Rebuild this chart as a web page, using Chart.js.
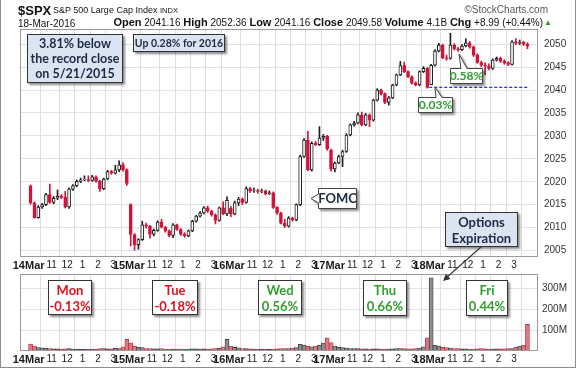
<!DOCTYPE html>
<html>
<head>
<meta charset="utf-8">
<script src="https://cdn.jsdelivr.net/npm/chart.js@4.4.1/dist/chart.umd.min.js"></script>
<style>
html, body { margin: 0; padding: 0; background: #fff; }
#wrap { position: relative; width: 576px; height: 368px; overflow: hidden; font-family: 'Liberation Sans', Arial, sans-serif; color: #111; }
#frame { position: absolute; left: 0; top: 0; width: 576px; height: 368px; box-sizing: border-box; border: 1px solid #8c8c8c; border-top: none; pointer-events: none; }
.abs { position: absolute; white-space: nowrap; }
#priceBox { position: absolute; left: 0; top: 0; width: 576px; height: 270px; }
#volBox { position: absolute; left: 0; top: 264px; width: 576px; height: 104px; }
.note { position: absolute; box-sizing: border-box; text-align: center; white-space: nowrap; font-family: Lato, 'Open Sans', sans-serif; font-weight: bold; font-size: 12.5px; line-height: 15px; color: #1d2945; background: #dbe5f1; border: 1px solid #333; box-shadow: 2px 2px 2px rgba(0,0,0,.45); }
.day { background: #fff; font-size: 13px; line-height: 16px; padding-top: 1px; }
.red { color: #e0101e; }
.green { color: #2f9e2f; }
svg { position: absolute; left: 0; top: 0; }
</style>
</head>
<body>
<div id="wrap">
  <div id="priceBox"><canvas id="priceChart"></canvas></div>
  <div id="volBox"><canvas id="volChart"></canvas></div>

  <div class="abs" style="left:18px;top:3px;font-size:13px;font-weight:bold;">$SPX</div>
  <div class="abs" style="left:53px;top:5px;font-size:9px;">S&amp;P 500 Large Cap Index</div>
  <div class="abs" style="left:160px;top:6px;font-size:7.5px;">INDX</div>
  <div class="abs" style="right:28px;top:4px;font-size:10px;color:#555;">&copy;StockCharts.com</div>
  <div class="abs" style="left:18px;top:18px;font-size:10px;">18-Mar-2016</div>
  <div class="abs" style="right:33px;top:16px;font-size:10px;"><b style="font-size:11px">Open</b> 2041.16 <b style="font-size:11px">High</b> 2052.36 <b style="font-size:11px">Low</b> 2041.16 <b style="font-size:11px">Close</b> 2049.58 <b style="font-size:11px">Volume</b> 4.1B <b style="font-size:11px">Chg</b> +8.99 (+0.44%)</div>
  <div class="abs" style="right:24px;top:18px;font-size:8px;color:#2a9d2a;">&#9650;</div>

  <div class="note" style="left:27px;top:34px;width:96px;height:49px;padding-top:1px;">3.81% below<br>the record close<br>on 5/21/2015</div>
  <div class="note" style="left:133px;top:34px;width:92px;height:18px;line-height:16px;font-size:10.5px;">Up 0.28% for 2016</div>
  <div class="note" style="left:445px;top:212px;width:73px;height:35px;padding-top:1px;line-height:16px;font-size:13px;">Options<br>Expiration</div>

  <div class="note day" style="left:48px;top:280px;width:44px;height:35px;"><span class="red">Mon<br>-0.13%</span></div>
  <div class="note day" style="left:152px;top:280px;width:46px;height:35px;"><span class="red">Tue<br>-0.18%</span></div>
  <div class="note day" style="left:258px;top:280px;width:44px;height:35px;"><span class="green">Wed<br>0.56%</span></div>
  <div class="note day" style="left:363px;top:280px;width:44px;height:36px;"><span class="green">Thu<br>0.66%</span></div>
  <div class="note day" style="left:466px;top:280px;width:42px;height:36px;"><span class="green">Fri<br>0.44%</span></div>

  <svg width="576" height="368">
    <g style="filter: drop-shadow(2px 2px 1px rgba(0,0,0,.45));" fill="#fff" stroke="#444" stroke-width="1">
      <path d="M318.5,188.5 H356.5 V208.5 H318.5 V203 L311,198.5 L318.5,194 Z"/>
      <path d="M450.5,68.5 H461 L459,54 L467,68.5 H482.5 V83.5 H450.5 Z"/>
      <path d="M418.5,97.5 H436 L435,87 L442,97.5 H452.5 V112.5 H418.5 Z"/>
    </g>
    <g font-family="Lato, 'Open Sans', sans-serif" font-weight="bold" text-anchor="middle">
      <text x="337.5" y="203" font-size="13" fill="#1d2945">FOMC</text>
      <text x="466.5" y="80" font-size="12" fill="#2f9e2f">0.58%</text>
      <text x="435.5" y="109" font-size="12" fill="#2f9e2f">0.03%</text>
    </g>
    <line x1="481" y1="247" x2="446" y2="278" stroke="#333" stroke-width="1.2"/>
    <polygon points="443,281 450.5,278.9 445.9,273.7" fill="#333"/>
  </svg>
  <div id="frame"></div>
</div>

<script>
// session labels
var days = ['14Mar', '15Mar', '16Mar', '17Mar', '18Mar'];
var barTimes = ['9:30','9:45','10:00','10:15','10:30','10:45','11:00','11:15','11:30','11:45','12:00','12:15','12:30',
                '12:45','13:00','13:15','13:30','13:45','14:00','14:15','14:30','14:45','15:00','15:15','15:30','15:45'];
var hourTickTimes = ['11:00', '12:00', '13:00', '14:00', '15:00'];
var hourTickLabels = ['11', '12', '1', '2', '3'];
var priceTicks = [2005, 2010, 2015, 2020, 2025, 2030, 2035, 2040, 2045, 2050];
var volTicks = [100, 200, 300];
var volTickLabels = ['100M', '200M', '300M'];

// 15 minute bars, 14-18 Mar 2016
var opens = [
  2019.1,2015.4,2012.2,2014.5,2015.0,2017.2,2015.5,2016.4,2016.8,2016.6,2014.5,2018.4,2019.1,2020.1,2020.4,2020.5,2020.3,2021.1,2020.1,2018.5,2020.6,2022.2,2021.9,2022.6,2023.7,2022.6,
  2015.0,2008.5,2006.3,2007.4,2010.6,2010.3,2008.6,2009.4,2011.2,2010.1,2009.3,2008.3,2010.6,2009.6,2008.6,2008.2,2009.3,2011.4,2012.5,2013.2,2014.3,2013.6,2012.8,2011.6,2014.3,2013.0,
  2014.24,2013.0,2015.4,2016.2,2015.5,2018.5,2018.0,2018.1,2017.9,2018.0,2017.4,2017.6,2014.4,2013.2,2011.0,2010.3,2012.1,2011.7,2015.0,2025.5,2029.1,2022.6,2028.4,2028.1,2029.5,2029.9,
  2026.9,2022.8,2024.1,2025.5,2026.6,2030.2,2032.4,2032.8,2034.6,2032.4,2034.6,2033.4,2037.8,2040.0,2039.2,2037.3,2038.3,2041.1,2043.3,2045.3,2044.0,2042.9,2041.5,2041.1,2044.0,2044.7,
  2041.16,2045.4,2048.5,2049.8,2047.0,2046.9,2049.8,2049.0,2048.8,2049.6,2050.3,2049.4,2047.6,2046.0,2045.4,2045.2,2044.7,2046.5,2046.9,2046.3,2045.9,2045.6,2050.5,2050.2,2050.4,2050.0
];
var highs = [
  2019.3,2015.6,2014.8,2015.3,2017.5,2019.5,2016.8,2018.2,2017.2,2017.9,2018.7,2019.4,2020.4,2020.8,2021.3,2021.3,2021.4,2021.3,2020.3,2020.8,2022.5,2022.5,2023.6,2024.57,2024.2,2022.8,
  2015.2,2008.7,2007.6,2011.4,2011.0,2010.5,2009.7,2011.5,2011.8,2010.3,2009.5,2010.9,2010.8,2009.8,2008.9,2009.5,2011.6,2012.7,2013.5,2014.6,2014.7,2013.8,2013.0,2014.5,2015.6,2016.72,
  2014.6,2015.8,2016.6,2016.5,2018.9,2018.8,2018.6,2018.4,2018.4,2018.2,2018.0,2017.8,2014.6,2013.4,2011.8,2012.4,2012.3,2015.2,2025.8,2029.4,2031.0,2028.7,2028.8,2032.02,2030.3,2030.1,
  2027.1,2024.3,2025.8,2026.9,2030.5,2032.6,2033.2,2035.0,2035.2,2034.9,2034.8,2038.0,2040.3,2040.2,2039.4,2038.6,2041.3,2043.5,2046.24,2046.1,2044.2,2043.1,2041.8,2044.2,2045.1,2044.9,
  2045.6,2048.8,2050.2,2050.0,2047.6,2052.36,2050.1,2049.3,2049.9,2051.2,2050.6,2049.6,2047.9,2046.3,2045.9,2045.7,2046.8,2047.2,2047.2,2046.6,2046.2,2050.8,2051.2,2050.9,2050.6,2050.3
];
var lows = [
  2015.1,2012.05,2012.05,2014.2,2014.8,2015.3,2015.2,2016.1,2016.3,2014.3,2014.2,2018.1,2018.9,2019.8,2020.2,2020.0,2020.1,2019.9,2017.9,2018.3,2020.4,2021.6,2021.7,2022.2,2022.3,2019.2,
  2006.0,2005.08,2005.3,2007.2,2009.9,2007.7,2008.2,2009.2,2009.9,2009.0,2008.0,2007.8,2009.4,2008.3,2007.9,2008.0,2009.1,2011.2,2012.3,2013.0,2013.3,2012.5,2010.8,2011.4,2012.8,2012.6,
  2012.4,2012.8,2014.8,2015.0,2015.3,2017.7,2017.7,2017.5,2017.6,2017.1,2017.2,2014.2,2012.9,2010.8,2010.04,2010.1,2011.4,2011.5,2014.8,2025.3,2022.4,2022.3,2027.9,2027.9,2029.0,2026.9,
  2022.3,2022.16,2023.9,2023.3,2026.4,2030.0,2032.1,2032.6,2032.2,2032.2,2032.0,2033.2,2037.6,2038.9,2037.0,2036.7,2038.1,2040.9,2043.1,2043.8,2042.7,2041.3,2040.9,2040.9,2043.8,2040.4,
  2041.16,2045.2,2048.3,2046.8,2046.5,2046.7,2048.7,2048.4,2048.6,2049.4,2049.1,2047.3,2045.8,2045.1,2043.3,2044.4,2044.5,2046.3,2046.0,2045.6,2045.3,2045.4,2049.9,2049.9,2049.7,2049.0
];
var closes = [
  2015.4,2012.2,2014.5,2015.0,2017.2,2015.5,2016.4,2016.8,2016.6,2014.5,2018.4,2019.1,2020.1,2020.4,2020.5,2020.3,2021.1,2020.1,2018.5,2020.6,2022.2,2021.9,2022.6,2023.7,2022.6,2019.64,
  2008.5,2006.3,2007.4,2010.6,2010.3,2008.6,2009.4,2011.2,2010.1,2009.3,2008.3,2010.6,2009.6,2008.6,2008.2,2009.3,2011.4,2012.5,2013.2,2014.3,2013.6,2012.8,2011.6,2014.3,2013.0,2015.93,
  2013.0,2015.4,2016.2,2015.5,2018.5,2018.0,2018.1,2017.9,2018.0,2017.4,2017.6,2014.4,2013.2,2011.0,2010.3,2012.1,2011.7,2015.0,2025.5,2029.1,2022.6,2028.4,2028.1,2029.5,2029.9,2027.22,
  2022.8,2024.1,2025.5,2026.6,2030.2,2032.4,2032.8,2034.6,2032.4,2034.6,2033.4,2037.8,2040.0,2039.2,2037.3,2038.3,2041.1,2043.3,2045.3,2044.0,2042.9,2041.5,2041.1,2044.0,2044.7,2040.59,
  2045.4,2048.5,2049.8,2047.0,2046.9,2049.8,2049.0,2048.8,2049.6,2050.3,2049.4,2047.6,2046.0,2045.4,2045.2,2044.7,2046.5,2046.9,2046.3,2045.9,2045.6,2050.5,2050.2,2050.4,2050.0,2049.58
];
// volume, millions
var vols = [
  33,24,16,15,13,12,10,10,9,10,11,9,9,8,8,8,9,8,12,12,10,10,13,11,20,56,
  38,22,18,16,12,12,10,10,11,9,9,9,8,9,8,9,10,10,9,10,9,10,12,13,20,56,
  24,17,15,12,11,10,9,9,8,8,8,9,10,11,12,12,14,16,32,28,22,20,24,27,38,63,
  40,24,18,16,14,12,12,11,10,10,9,10,10,9,9,9,10,11,12,11,10,10,12,14,20,63,
  350,27,24,18,16,14,12,12,10,10,9,9,10,11,10,9,9,10,10,10,11,12,18,24,27,127
];

Chart.defaults.font.family = "'Liberation Sans', Arial, sans-serif";
Chart.defaults.animation = false;

var n = opens.length;
var perDay = barTimes.length;
var xs = opens.map(function (o, i) { return i + 0.5; });
var isUp = closes.map(function (c, i) { return c >= opens[i]; });
var candleRed = '#d4123a';
var candleBlack = '#1e1e1e';

var tickList = [];
days.forEach(function (d, k) {
  tickList.push({ value: k * perDay, label: d, day: true });
  hourTickTimes.forEach(function (t, h) {
    tickList.push({ value: k * perDay + barTimes.indexOf(t), label: hourTickLabels[h], day: false });
  });
});

var frame = {
  id: 'frame',
  afterDraw: function (chart) {
    var a = chart.chartArea, c = chart.ctx;
    c.save();
    c.strokeStyle = '#9a9a9a';
    c.lineWidth = 1;
    c.strokeRect(Math.round(a.left) + 0.5, Math.round(a.top) + 0.5, Math.round(a.width) - 1, Math.round(a.height) - 1);
    c.restore();
  }
};

function timeAxis(h, pad) {
  return {
    type: 'linear', min: 0, max: n,
    afterBuildTicks: function (s) { s.ticks = tickList.map(function (t) { return { value: t.value }; }); },
    afterFit: function (s) { s.height = h; },
    ticks: {
      autoSkip: false, maxRotation: 0, padding: pad, color: '#1a1a1a',
      callback: function (v, i) { return tickList[i] ? tickList[i].label : ''; },
      font: function (c) { return (tickList[c.index] && tickList[c.index].day) ? { size: 11, weight: 'bold' } : { size: 10 }; }
    },
    grid: { color: '#dedede', drawTicks: false },
    border: { display: false }
  };
}

new Chart(document.getElementById('priceChart'), {
  type: 'bar',
  data: {
    datasets: [{
      type: 'line',
      data: [{ x: 104, y: closes[103] }, { x: n, y: closes[103] }],
      borderColor: '#2b2bff', borderWidth: 1.3, borderDash: [3, 2], pointRadius: 0, order: 0
    }, {
      data: xs.map(function (x, i) { return { x: x, y: [lows[i], highs[i]] }; }),
      backgroundColor: isUp.map(function (u) { return u ? candleBlack : candleRed; }),
      barThickness: 1, grouped: false, order: 2
    }, {
      data: xs.map(function (x, i) { return { x: x, y: [opens[i], closes[i]] }; }),
      backgroundColor: isUp.map(function (u) { return u ? '#fff' : candleRed; }),
      borderColor: isUp.map(function (u) { return u ? candleBlack : candleRed; }),
      borderWidth: 1, borderSkipped: false, barThickness: 3, grouped: false, order: 1
    }]
  },
  options: {
    responsive: true,
    maintainAspectRatio: false,
    events: [],
    layout: { padding: { left: 20, top: 29, right: 0, bottom: 0 } },
    plugins: { legend: { display: false }, tooltip: { enabled: false } },
    scales: {
      x: timeAxis(13, 2),
      y: {
        position: 'right', min: 2003.6, max: 2053.3,
        afterBuildTicks: function (s) { s.ticks = priceTicks.map(function (v) { return { value: v }; }); },
        afterFit: function (s) { s.width = 38; },
        ticks: { padding: 6, color: '#333', font: { size: 10 }, callback: function (v) { return String(v); } },
        grid: { color: '#e2e2e2', drawTicks: false },
        border: { display: false }
      }
    }
  },
  plugins: [frame]
});

new Chart(document.getElementById('volChart'), {
  type: 'bar',
  data: {
    datasets: [{
      data: xs.map(function (x, i) { return { x: x, y: vols[i] }; }),
      backgroundColor: isUp.map(function (u) { return u ? '#8e8e8e' : '#e07884'; }),
      borderColor: isUp.map(function (u) { return u ? '#3a3a3a' : '#b0303c'; }),
      borderWidth: 0.8, barThickness: 4
    }]
  },
  options: {
    responsive: true,
    maintainAspectRatio: false,
    events: [],
    layout: { padding: { left: 20, top: 6, right: 0, bottom: 0 } },
    plugins: { legend: { display: false }, tooltip: { enabled: false } },
    scales: {
      x: timeAxis(17, 2),
      y: {
        position: 'right', min: 0, max: 368,
        afterBuildTicks: function (s) { s.ticks = volTicks.map(function (v) { return { value: v }; }); },
        afterFit: function (s) { s.width = 38; },
        ticks: {
          padding: 4, color: '#333', font: { size: 10 },
          callback: function (v, i) { return volTickLabels[i]; }
        },
        grid: { color: '#e2e2e2', drawTicks: false },
        border: { display: false }
      }
    }
  },
  plugins: [frame]
});
</script>
</body>
</html>
